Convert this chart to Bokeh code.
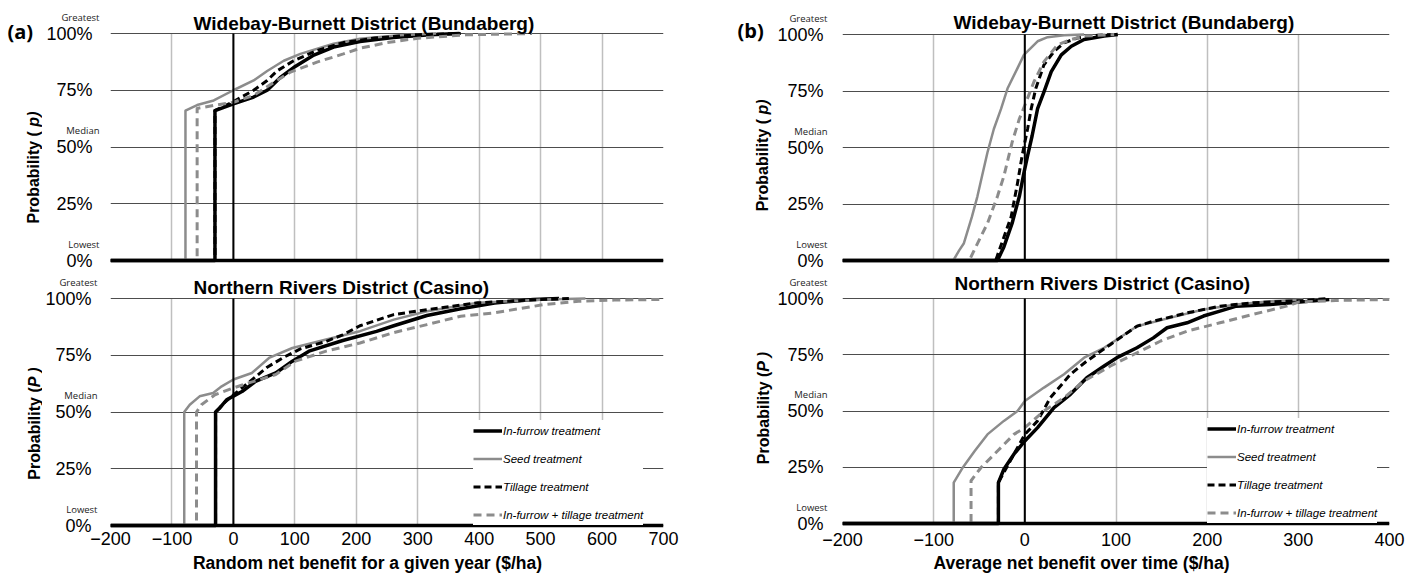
import math
from bokeh.plotting import figure
from bokeh.models import (FixedTicker, Span, Label, Legend, LegendItem, Range1d,
                          LinearAxis, Grid)
from bokeh.layouts import row, column
from bokeh.embed import file_html
from bokeh.resources import INLINE

# ---------------- data ----------------
series_names = ["In-furrow treatment", "Seed treatment", "Tillage treatment",
                "In-furrow + tillage treatment"]
y_ticks = [0, 25, 50, 75, 100]
y_tick_labels = ["0%", "25%", "50%", "75%", "100%"]
word_ticks = [0, 50, 100]
word_labels = ["Lowest", "Median", "Greatest"]
x_ticks_a = [-200, -100, 0, 100, 200, 300, 400, 500, 600, 700]
x_ticks_b = [-200, -100, 0, 100, 200, 300, 400]
panel_tags = ["(a)", "(b)"]
district_titles = ["Widebay-Burnett District (Bundaberg)", "Northern Rivers District (Casino)"]
y_title_parts = [("Probability (\u00a0", "p)"), ("Probability (", "P )")]
x_titles = ["Random net benefit for a given year ($/ha)", "Average net benefit over time ($/ha)"]

# (a) Widebay-Burnett (Bundaberg) - random net benefit for a given year
a_top_infurrow_x = [-200, -30, -30, 0, 33, 55, 76, 98, 131, 163, 206, 260, 320, 368]
a_top_infurrow_p = [0, 0, 66, 69, 72, 75, 80.5, 85, 90.5, 94, 96.5, 98.2, 99.4, 100]
a_top_seed_x = [-200, -78, -78, -59, -32, 0, 33, 55, 82, 109, 163, 206, 270, 330]
a_top_seed_p = [0, 0, 66, 68.5, 70.5, 75, 79.3, 83.5, 88, 91, 95.5, 97.7, 99.2, 100]
a_top_tillage_x = [-200, -30, -30, 0, 33, 55, 71, 98, 136, 179, 230, 300, 370]
a_top_tillage_p = [0, 0, 66, 70, 75, 79.3, 83.5, 88, 92.5, 96, 98, 99.5, 100]
a_top_combo_x = [-200, -59, -59, -32, 0, 33, 66, 93, 136, 179, 206, 250, 300, 378, 486]
a_top_combo_p = [0, 0, 67, 68.3, 69.7, 72.7, 78.5, 83, 87.4, 91, 93.5, 96, 97.9, 99.4, 100]

# (a) Northern Rivers (Casino)
a_bot_infurrow_x = [-200, -29, -29, -22, -11, 0, 14, 36, 69, 96, 123, 178, 233, 261, 315, 370, 425, 488, 530]
a_bot_infurrow_p = [0, 0, 50, 51.8, 55.4, 57, 59, 63.5, 67.2, 72.4, 76.8, 81.5, 85.5, 88, 92.5, 95.5, 98, 99.6, 100]
a_bot_seed_x = [-200, -80, -80, -71, -55, -33, -19, 0, 30, 58, 96, 151, 206, 261, 315, 398, 507, 573]
a_bot_seed_p = [0, 0, 50, 53.2, 56.9, 58.4, 61.3, 64.3, 67.2, 73.8, 78.2, 81.9, 85.6, 90.7, 94.4, 98.1, 99.6, 100]
a_bot_tillage_x = [-200, -29, -29, -15, 0, 22, 55, 82, 109, 150, 178, 206, 261, 315, 398, 480, 546]
a_bot_tillage_p = [0, 0, 50, 54, 57.5, 62.4, 69.7, 74.1, 77.8, 81, 84, 88, 92.9, 95.1, 98.1, 99.3, 100]
a_bot_combo_x = [-200, -60, -60, -52, -30, 0, 25, 69, 101, 151, 206, 261, 315, 370, 425, 507, 562, 620, 700]
a_bot_combo_p = [0, 0, 50, 53.2, 57.6, 60.6, 62.8, 66.5, 72.4, 76.8, 80.4, 85, 88.5, 92.2, 93.7, 97.4, 98.8, 99.3, 99.6]

# (b) Widebay-Burnett (Bundaberg) - average net benefit over time
b_top_infurrow_x = [-200, -30, -23, -14, -6, -1, 3, 8, 14, 21, 29, 40, 51, 65, 87, 102]
b_top_infurrow_p = [0, 0, 6, 16.4, 28.4, 38.8, 46.3, 55.2, 67.2, 74.6, 83.6, 91, 94.8, 97.8, 99.3, 100]
b_top_seed_x = [-200, -78.5, -72, -67, -58, -52, -47, -41, -34, -26, -19, -8, -1, 14, 25, 43, 65]
b_top_seed_p = [0, 0, 4.5, 7.5, 19.4, 28.4, 37.3, 47.8, 58.2, 67.2, 76.1, 85.1, 91, 97, 98.8, 99.7, 100]
b_top_tillage_x = [-200, -32, -15, -8, -3, 3, 7, 12, 21, 32, 43, 58, 80, 98]
b_top_tillage_p = [0, 0, 19.4, 34.3, 46.3, 58.2, 67.2, 76.1, 86.6, 92.5, 96.3, 98.5, 99.7, 100]
b_top_combo_x = [-200, -61, -52, -41, -30, -23, -14, -6, 0, 10, 21, 36, 51, 65, 98]
b_top_combo_p = [0, 0, 7.5, 16.4, 28.4, 37.3, 52.2, 62.7, 68.7, 79.1, 88, 95.5, 97.8, 99.3, 100]

# (b) Northern Rivers (Casino)
b_bot_infurrow_x = [-200, -29, -29, -23, -12, 0, 14, 32, 50, 68, 87, 101, 123, 141, 156, 178, 196, 214, 232, 269, 334]
b_bot_infurrow_p = [0, 0, 18.2, 24.1, 30.8, 36.7, 42.6, 51.5, 57.4, 64.8, 70, 73.7, 78.1, 82.5, 87, 89.2, 92.2, 94.4, 96.6, 97.3, 99.5]
b_bot_seed_x = [-200, -78, -78, -68, -55, -41, -23, -8, 0, 21, 43, 65, 87, 101, 123, 159, 196, 232, 269, 305]
b_bot_seed_p = [0, 0, 18.2, 24.9, 32.2, 39.6, 45.6, 50, 54.4, 60.4, 66.3, 73.7, 78.1, 81.8, 87.7, 91.4, 95.1, 97.3, 98.8, 99.6]
b_bot_tillage_x = [-200, -29, -29, -12, 0, 14, 28, 50, 68, 94, 123, 141, 178, 214, 250, 305, 334]
b_bot_tillage_p = [0, 0, 18.2, 30.8, 39.6, 45.6, 55.9, 66.3, 72.2, 79.6, 87.7, 89.9, 93.6, 96.6, 98.1, 99.1, 100]
b_bot_combo_x = [-200, -59, -59, -48, -30, -12, 0, 21, 43, 65, 94, 123, 149, 178, 214, 250, 287, 301, 341, 400]
b_bot_combo_p = [0, 0, 19, 24.9, 32.2, 39.6, 42.6, 50, 55.9, 63.3, 70, 75.9, 81.1, 85.5, 89.2, 92.9, 96.6, 98.5, 99.1, 99.6]

# ---------------- styling ----------------
GRAY = "#8c8c8c"
STYLES = [
    dict(line_color="black", line_width=3.5, line_dash="solid"),
    dict(line_color=GRAY, line_width=2.5, line_dash="solid"),
    dict(line_color="black", line_width=3, line_dash="7 4"),
    dict(line_color=GRAY, line_width=3, line_dash="8 5"),
]
FONT = "Liberation Sans"
WORD_FONT = "Open Sans"
TOTAL_W = 1417
HAS_CROSS = "cross_bounds" in Grid.properties()


def bare_axis(ax):
    ax.axis_line_color = None
    ax.major_tick_line_color = None
    ax.minor_tick_line_color = None
    ax.major_tick_out = 0
    ax.major_tick_in = 0


def make_panel(width, left, right, height, top, bottom, xlo, xhi, xticks, curves,
               p100, p0, ft, fb, title, title_dx, title_cy, words_standoff, tick_standoff,
               bottom_panel, x_standoff=4, legend_loc=(0, 0)):
    s = (p0 - p100) / 100.0
    y0 = -(fb - p0) / s
    y1 = 100 + (p100 - ft) / s
    p = figure(width=width, height=height, x_range=Range1d(xlo, xhi), y_range=Range1d(y0, y1),
               output_backend="svg", toolbar_location=None,
               min_border_left=left, min_border_right=right,
               min_border_top=top, min_border_bottom=bottom)
    p.outline_line_color = None
    p.background_fill_color = "white"
    p.border_fill_color = "white"

    xax = p.xaxis[0]
    xax.ticker = FixedTicker(ticks=xticks)
    bare_axis(xax)
    xax.major_label_text_font = FONT
    xax.major_label_text_font_size = "18px"
    xax.major_label_text_color = "black"
    xax.major_label_standoff = x_standoff
    if not bottom_panel:
        xax.visible = False

    main = p.yaxis[0]
    main.ticker = FixedTicker(ticks=y_ticks)
    main.major_label_overrides = {t: l for t, l in zip(y_ticks, y_tick_labels)}
    bare_axis(main)
    main.major_label_text_font = FONT
    main.major_label_text_font_size = "18px"
    main.major_label_text_color = "black"
    main.major_label_standoff = tick_standoff

    # small words (Lowest / Median / Greatest) sitting above their gridlines
    dd = 16.5 / s
    p.extra_y_ranges = {"words": Range1d(y0 - dd, y1 - dd)}
    words = LinearAxis(y_range_name="words", ticker=FixedTicker(ticks=word_ticks),
                       major_label_overrides={t: l for t, l in zip(word_ticks, word_labels)})
    bare_axis(words)
    words.major_label_text_font = WORD_FONT
    words.major_label_text_font_size = "9.5px"
    words.major_label_text_color = "#222222"
    words.major_label_standoff = words_standoff
    p.left = [words, main]

    p.ygrid.grid_line_color = "#4d4d4d"
    p.ygrid.grid_line_width = 1
    if HAS_CROSS:
        p.xgrid.grid_line_color = "#bfbfbf"
        p.xgrid.grid_line_width = 1.5
        p.xgrid.cross_bounds = (y_ticks[0], y_ticks[-1])
    else:
        p.xgrid.visible = False
        p.segment(x0=xticks, y0=[y_ticks[0]] * len(xticks), x1=xticks, y1=[y_ticks[-1]] * len(xticks),
                  line_color="#bfbfbf", line_width=1.5, level="underlay")

    renderers = []
    for (xs, ps), st in zip(curves, STYLES):
        renderers.append(p.line(xs, ps, line_join="round", **st))

    if bottom_panel:
        legend = Legend(items=[LegendItem(label=n, renderers=[r]) for n, r in zip(series_names, renderers)],
                        location=legend_loc, orientation="vertical",
                        label_text_font=FONT, label_text_font_style="italic",
                        label_text_font_size="11.5px", label_text_color="black",
                        glyph_width=29, glyph_height=21, label_height=21,
                        label_standoff=1, spacing=7, padding=5, margin=0,
                        border_line_color=None, background_fill_color="white",
                        background_fill_alpha=1.0)
        p.add_layout(legend)

    # vertical zero line (only across the plotted probability band)
    p.line([0, 0], [y_ticks[0], y_ticks[-1]], line_color="black", line_width=2)
    p.add_layout(Span(location=0, dimension="width", line_color="black", line_width=3.5))

    p.add_layout(Label(x=xlo, y=100, x_offset=title_dx, y_offset=p100 - title_cy, text=title,
                       text_align="left", text_baseline="middle",
                       text_font=FONT, text_font_style="bold", text_font_size="19px",
                       text_color="black"))
    return p


def make_textfig(width, height, labels):
    h = figure(width=width, height=height, x_range=Range1d(0, width), y_range=Range1d(0, height),
               x_axis_type=None, y_axis_type=None, output_backend="svg", toolbar_location=None,
               min_border=0)
    h.outline_line_color = None
    h.background_fill_color = "white"
    h.border_fill_color = "white"
    h.xgrid.visible = False
    h.ygrid.visible = False
    for t in labels:
        h.add_layout(Label(**t))
    return h


def tag_spec(text, x, y):
    return dict(x=x, y=y, text=text, text_align="left", text_baseline="middle",
                text_font=WORD_FONT, text_font_style="bold", text_font_size="20px", text_color="black")


def ytitle_specs(parts, x, y):
    first, second = parts
    return [
        dict(x=x, y=y, text=first, angle=math.pi / 2, text_align="right", text_baseline="middle",
             text_font=FONT, text_font_style="bold", text_font_size="16px", text_color="black"),
        dict(x=x, y=y, text=second, angle=math.pi / 2, text_align="left", text_baseline="middle",
             text_font=FONT, text_font_style="bold italic", text_font_size="16px", text_color="black"),
    ]


def xtitle_spec(text, x, y):
    return dict(x=x, y=y, text=text, text_align="center", text_baseline="middle",
                text_font=FONT, text_font_style="bold", text_font_size="17.5px", text_color="black")


TOP_H = 272
BOT_H = 280
FOOT_H = 30
TAG_A_W = 42
TAG_B_W = 74

tag_a_top = make_textfig(TAG_A_W, TOP_H, [tag_spec(panel_tags[0], 7, 248)] + ytitle_specs(y_title_parts[0], 33, 146))
tag_b_top = make_textfig(TAG_B_W, TOP_H, [tag_spec(panel_tags[1], 37, 248.5)] + ytitle_specs(y_title_parts[0], 61.5, 159))
tag_a_bot = make_textfig(TAG_A_W, BOT_H, ytitle_specs(y_title_parts[1], 34, 154.5))
tag_b_bot = make_textfig(TAG_B_W, BOT_H, ytitle_specs(y_title_parts[1], 62.5, 171.5))
footer = make_textfig(TOTAL_W, FOOT_H, [xtitle_spec(x_titles[0], 367, 19.3), xtitle_spec(x_titles[1], 1081, 20)])

a_top = make_panel(700 - TAG_A_W, 68, 37, TOP_H, 8, 9, -200, 700, x_ticks_a,
                   [(a_top_infurrow_x, a_top_infurrow_p), (a_top_seed_x, a_top_seed_p),
                    (a_top_tillage_x, a_top_tillage_p), (a_top_combo_x, a_top_combo_p)],
                   33, 260, 8, 263, district_titles[0], 83, 23.2, 11, -34, False)
b_top = make_panel(717 - TAG_B_W, 68, 28, TOP_H, 8, 9, -200, 400, x_ticks_b,
                   [(b_top_infurrow_x, b_top_infurrow_p), (b_top_seed_x, b_top_seed_p),
                    (b_top_tillage_x, b_top_tillage_p), (b_top_combo_x, b_top_combo_p)],
                   34, 260, 8, 263, district_titles[0], 111, 21.5, 15, -37, False)
a_bot = make_panel(700 - TAG_A_W, 68, 37, BOT_H, 0, 24, -200, 700, x_ticks_a,
                   [(a_bot_infurrow_x, a_bot_infurrow_p), (a_bot_seed_x, a_bot_seed_p),
                    (a_bot_tillage_x, a_bot_tillage_p), (a_bot_combo_x, a_bot_combo_p)],
                   298 - TOP_H, 525 - TOP_H, 0, 528 - TOP_H, district_titles[1], 83, 287.2 - TOP_H,
                   13, -35, True, x_standoff=3, legend_loc=(363, 3))
b_bot = make_panel(717 - TAG_B_W, 68, 28, BOT_H, 0, 24, -200, 400, x_ticks_b,
                   [(b_bot_infurrow_x, b_bot_infurrow_p), (b_bot_seed_x, b_bot_seed_p),
                    (b_bot_tillage_x, b_bot_tillage_p), (b_bot_combo_x, b_bot_combo_p)],
                   298 - TOP_H, 523 - TOP_H, 0, 528 - TOP_H, district_titles[1], 112, 282.5 - TOP_H,
                   15, -37, True, x_standoff=4, legend_loc=(365, 5))

layout = column(row(tag_a_top, a_top, tag_b_top, b_top),
                row(tag_a_bot, a_bot, tag_b_bot, b_bot),
                footer)
open("out.html", "w").write(file_html(layout, INLINE))
